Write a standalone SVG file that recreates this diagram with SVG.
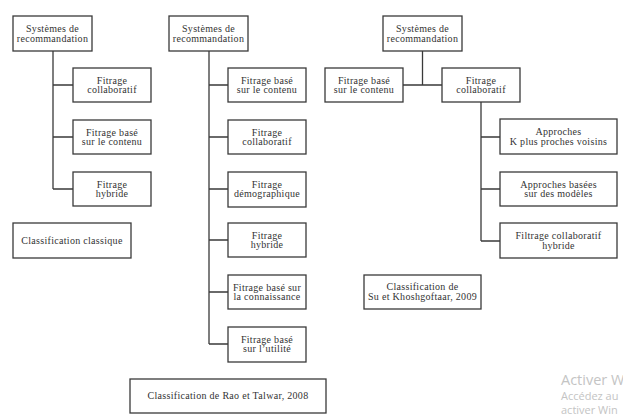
<svg xmlns="http://www.w3.org/2000/svg" width="623" height="420" viewBox="0 0 623 420">
<style>
rect.b{fill:#fff;stroke:#3a3a3a;stroke-width:1.3}
text{font-family:"Liberation Serif","Times New Roman",serif;font-size:10px;fill:#333;text-anchor:middle;letter-spacing:0.3px}
.c path{fill:none;stroke:#3a3a3a;stroke-width:1.3}
text.w{font-family:"Open Sans","Noto Sans",sans-serif;fill:#c4c4c4;text-anchor:start;letter-spacing:0;font-size:11px}
text.w1{font-size:14.5px}
</style>
<rect width="623" height="420" fill="#fff"/>
<g class="c" id="connectors">
<path d="M53 51V189M53 85H73M53 137H73M53 189H73"/>
<path d="M209 51V344M209 85H228M209 137H228M209 189H228M209 240H228M209 292H228M209 344H228"/>
<path d="M422.5 51V85M403 85H442M481 102V241M481 137H500M481 189H500M481 241H500"/>
</g>
<g id="n1"><rect class="b" x="13" y="16" width="79" height="35"/><text x="52.5" y="32">Systèmes de</text><text x="52.5" y="41.5">recommandation</text></g>
<g id="n2"><rect class="b" x="73" y="68" width="78" height="34"/><text x="112" y="83.5">Fitrage</text><text x="112" y="93">collaboratif</text></g>
<g id="n3"><rect class="b" x="73" y="120" width="78" height="34"/><text x="112" y="135.5">Fitrage basé</text><text x="112" y="145">sur le contenu</text></g>
<g id="n4"><rect class="b" x="73" y="172" width="78" height="34"/><text x="112" y="187.5">Fitrage</text><text x="112" y="197">hybride</text></g>
<g id="n5"><rect class="b" x="13" y="223" width="118" height="35"/><text x="72" y="243.5">Classification classique</text></g>

<g id="n6"><rect class="b" x="169" y="16" width="79" height="35"/><text x="208.5" y="32">Systèmes de</text><text x="208.5" y="41.5">recommandation</text></g>
<g id="n7"><rect class="b" x="228" y="68" width="78" height="34"/><text x="267" y="83.5">Fitrage basé</text><text x="267" y="93">sur le contenu</text></g>
<g id="n8"><rect class="b" x="228" y="120" width="78" height="34"/><text x="267" y="135.5">Fitrage</text><text x="267" y="145">collaboratif</text></g>
<g id="n9"><rect class="b" x="228" y="172" width="78" height="35"/><text x="267" y="187.5">Fitrage</text><text x="267" y="197">démographique</text></g>
<g id="n10"><rect class="b" x="228" y="223" width="78" height="34"/><text x="267" y="238.5">Fitrage</text><text x="267" y="248">hybride</text></g>
<g id="n11"><rect class="b" x="228" y="275" width="78" height="34"/><text x="267" y="290.5">Fitrage basé sur</text><text x="267" y="300">la connaissance</text></g>
<g id="n12"><rect class="b" x="228" y="327" width="78" height="35"/><text x="267" y="342.5">Fitrage basé</text><text x="267" y="352">sur l’utilité</text></g>
<g id="n13"><rect class="b" x="130" y="379" width="196" height="34"/><text x="228" y="399">Classification de Rao et Talwar, 2008</text></g>

<g id="n14"><rect class="b" x="383" y="16" width="79" height="35"/><text x="422.5" y="32">Systèmes de</text><text x="422.5" y="41.5">recommandation</text></g>
<g id="n15"><rect class="b" x="325" y="68" width="78" height="34"/><text x="364" y="83.5">Fitrage basé</text><text x="364" y="93">sur le contenu</text></g>
<g id="n16"><rect class="b" x="442" y="68" width="78" height="34"/><text x="481" y="83.5">Fitrage</text><text x="481" y="93">collaboratif</text></g>
<g id="n17"><rect class="b" x="500" y="119" width="117" height="35"/><text x="558.5" y="135">Approches</text><text x="558.5" y="144.5">K plus proches voisins</text></g>
<g id="n18"><rect class="b" x="500" y="172" width="117" height="34"/><text x="558.5" y="187.5">Approches basées</text><text x="558.5" y="197">sur des modèles</text></g>
<g id="n19"><rect class="b" x="500" y="223" width="117" height="35"/><text x="558.5" y="239">Filtrage collaboratif</text><text x="558.5" y="248.5">hybride</text></g>
<g id="n20"><rect class="b" x="364" y="275" width="117" height="34"/><text x="422.5" y="290">Classification de</text><text x="422.5" y="299.5">Su et Khoshgoftaar, 2009</text></g>

<g id="watermark">
<text class="w w1" x="561" y="385">Activer W</text>
<text class="w" x="561" y="400">Accédez au</text>
<text class="w" x="561" y="414">activer Win</text>
</g>
</svg>
